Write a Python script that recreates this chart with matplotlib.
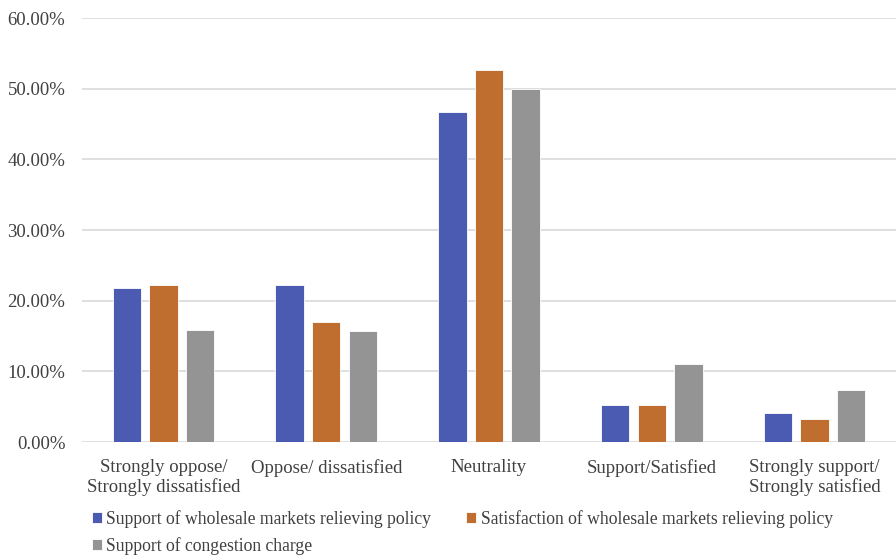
import numpy as np
import matplotlib
matplotlib.use("Agg")
import matplotlib.pyplot as plt
from matplotlib.ticker import FuncFormatter

plt.rcParams['font.family'] = ['Liberation Serif', 'DejaVu Serif']

categories = ['Strongly oppose/\nStrongly dissatisfied', 'Oppose/ dissatisfied',
              'Neutrality', 'Support/Satisfied', 'Strongly support/\nStrongly satisfied']
series_names = ['Support of wholesale markets relieving policy',
                'Satisfaction of wholesale markets relieving policy',
                'Support of congestion charge']
support_wholesale = [21.8, 22.2, 46.7, 5.3, 4.1]
satisfaction_wholesale = [22.2, 17.0, 52.6, 5.3, 3.2]
support_congestion = [15.8, 15.7, 50.0, 11.0, 7.4]
colors = ['#4a5bb1', '#c06e30', '#949494']

fig = plt.figure(figsize=(8.96, 5.56), dpi=100)
ax = fig.add_axes([0.0915, 0.205, 0.9085, 0.7626])

x = np.arange(len(categories))
width = 0.175
step = 0.225
for i, (vals, name) in enumerate(zip([support_wholesale, satisfaction_wholesale, support_congestion], series_names)):
    ax.bar(x + (i - 1) * step, vals, width, color=colors[i], label=name,
           edgecolor='white', linewidth=0.6, zorder=3)

ax.set_xlim(-0.5, len(categories) - 0.5)
ax.set_ylim(0, 60)
ax.set_yticks(np.arange(0, 61, 10))
ax.yaxis.set_major_formatter(FuncFormatter(lambda v, p: f'{v:.2f}%'))
ax.grid(axis='y', color='#d9d9d9', linewidth=1.2, zorder=0)
for s in ax.spines.values():
    s.set_visible(False)
ax.tick_params(length=0, labelsize=13.5, colors='#404040')
ax.tick_params(axis='y', pad=12)
ax.set_xticks(x)
ax.set_xticklabels(categories, linespacing=1.2)
ax.tick_params(axis='x', pad=12)

# row-major legend: A B / C
handles, labels = ax.get_legend_handles_labels()
order = [0, 2, 1]
fig.legend([handles[k] for k in order], [labels[k] for k in order],
           loc='lower left', bbox_to_anchor=(0.085, -0.026), ncol=2,
           frameon=False, fontsize=12.7, handlelength=0.55, handleheight=0.55,
           handletextpad=0.25, columnspacing=2.0, labelspacing=0.5,
           labelcolor='#404040')

fig.savefig('out.png', dpi=100)
